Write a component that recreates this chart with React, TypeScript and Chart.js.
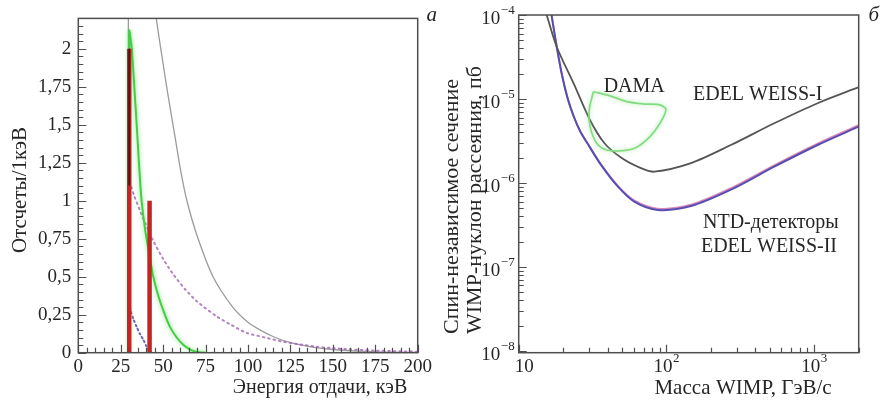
import React, { useEffect, useRef } from 'react';
import { Chart, registerables } from 'chart.js';

Chart.register(...registerables);

const SERIF = '"Liberation Serif", "Times New Roman", Times, serif';
const INK = '#262626';
const FRAME = '#4e4e4e';

// ---------- panel a: recoil-energy spectra ----------
const ENERGY_TICKS = [0, 25, 50, 75, 100, 125, 150, 175, 200];
const COUNT_TICKS = [0, 0.25, 0.5, 0.75, 1, 1.25, 1.5, 1.75, 2];

// thin gray curve
const GRAY_E = [30, 30, 38, 42, 46, 50, 52.5, 57, 60.3, 64, 70, 79.4, 91, 100, 107, 115, 125, 137, 150, 165, 180, 200];
const GRAY_C = [0, 4.5, 3.2, 2.66, 2.2, 1.9, 1.72, 1.42, 1.2, 1.0, 0.77, 0.5, 0.3, 0.2, 0.15, 0.105, 0.066, 0.039, 0.021, 0.01, 0.004, 0.0015];

// green curve
const GREEN_E = [30, 30, 31.5, 33, 34.4, 36, 37.3, 39.5, 41.8, 44.2, 47, 51, 54, 58, 62, 66, 70, 75];
const GREEN_C = [0, 2.12, 2.0, 1.75, 1.5, 1.2, 1.0, 0.8, 0.65, 0.5, 0.38, 0.25, 0.17, 0.1, 0.05, 0.02, 0.005, 0];

// purple dotted curve
const PURPLE_E = [30, 30, 33, 38, 44, 50, 56, 63, 70, 81.5, 90, 99, 110, 120, 130, 140, 150, 160, 175, 190, 200];
const PURPLE_C = [0, 1.12, 1.03, 0.89, 0.74, 0.617, 0.515, 0.417, 0.337, 0.239, 0.184, 0.131, 0.1, 0.074, 0.055, 0.04, 0.03, 0.022, 0.014, 0.009, 0.0065];

// blue dotted curve
const BLUE_E = [30, 30, 31, 32.5, 34.4, 36.5, 38.3, 40, 41.5, 43];
const BLUE_C = [0, 0.31, 0.27, 0.22, 0.17, 0.12, 0.085, 0.045, 0.015, 0];

// red event bars
const BAR_E = [30, 42];
const BAR_C = [2.0, 1.0];

// dark overlap on the first bar
const CORE_E = [30, 30];
const CORE_C = [1.1, 2.0];

// ---------- panel б: exclusion limits ----------
const MASS_DECADES = [10, 100, 1000];
const MASS_EXP = ['', '2', '3'];
const SIGMA_DECADES = [1e-8, 1e-7, 1e-6, 1e-5, 1e-4];
const SIGMA_EXP = ['\u22128', '\u22127', '\u22126', '\u22125', '\u22124'];

const EW1_M = [15.47, 18.08, 23.78, 30.36, 37.95, 49.22, 67.2, 82.7, 146.5, 273, 536, 1054, 2000];
const EW1_S = [1e-4, 4.19e-5, 1.47e-5, 5.62e-6, 2.99e-6, 2.01e-6, 1.5e-6, 1.36e-6, 1.72e-6, 2.83e-6, 5.13e-6, 8.9e-6, 1.38e-5];

const EW2_M = [16.67, 18.08, 19.63, 21.39, 23.49, 25.99, 29.9, 36.06, 46.8, 60.5, 87, 146.5, 273, 536, 1054, 2000];
const EW2_S = [1e-4, 4.19e-5, 1.93e-5, 1.03e-5, 6.27e-6, 4.16e-6, 2.76e-6, 1.64e-6, 9.08e-7, 5.99e-7, 4.77e-7, 5.3e-7, 8.3e-7, 1.56e-6, 2.83e-6, 4.68e-6];

const EW2P_M = [16.7, 18.1, 19.63, 21.39, 23.49, 25.99, 29.9, 36.06, 46.8, 60.5, 87, 146.5, 273, 536, 1054, 2000];
const EW2P_S = [1e-4, 4.2e-5, 1.94e-5, 1.04e-5, 6.3e-6, 4.19e-6, 2.79e-6, 1.67e-6, 9.3e-7, 6.2e-7, 4.95e-7, 5.5e-7, 8.65e-7, 1.62e-6, 2.94e-6, 4.87e-6];

const DAMA_M = [32.0, 41.5, 53.8, 71.5, 90.4, 99.2, 90.4, 77.3, 62.8, 51.0, 39.4, 33.7, 30.4, 30.0, 32.0];
const DAMA_S = [1.22e-5, 1.09e-5, 9.3e-6, 8.7e-6, 8.5e-6, 7.5e-6, 5.14e-6, 3.56e-6, 2.66e-6, 2.42e-6, 2.47e-6, 2.97e-6, 4.68e-6, 7.4e-6, 1.22e-5];

// in-plot captions, anchored in data coordinates (mass, cross-section)
const CAPTIONS = [
  { text: 'DAMA', m: 60.5, s: 1.4e-5 },
  { text: 'EDEL WEISS-I', m: 414, s: 1.12e-5 },
  { text: 'NTD-детекторы', m: 509, s: 3.37e-7 },
  { text: 'EDEL WEISS-II', m: 494, s: 1.75e-7 },
];

const pts = (xs: number[], ys: number[]) => xs.map((x, i) => ({ x, y: ys[i] }));

const line = (data: any[], color: string, width: number, extra: any = {}) => ({
  data,
  showLine: true,
  borderColor: color,
  backgroundColor: color,
  borderWidth: width,
  pointRadius: 0,
  pointHoverRadius: 0,
  fill: false,
  tension: 0.25,
  ...extra,
});

// soft halo for selected datasets
const glowPlugin = {
  id: 'glow',
  beforeDatasetDraw(chart: any, args: any) {
    const ds: any = chart.data.datasets[args.index];
    if (ds.glow) {
      chart.ctx.save();
      chart.ctx.shadowColor = ds.glow;
      chart.ctx.shadowBlur = 4;
    }
  },
  afterDatasetDraw(chart: any, args: any) {
    const ds: any = chart.data.datasets[args.index];
    if (ds.glow) chart.ctx.restore();
  },
};

type TickSet = { xMajor: number[]; xMinor: number[]; yMajor: number[]; yMinor: number[] };

// box around the plot area with inward tick marks on the bottom and left
function frameTicks(t: TickSet) {
  return {
    id: 'frameTicks',
    afterDatasetsDraw(chart: any) {
      const { ctx, chartArea: ca } = chart;
      const sx = chart.scales.x;
      const sy = chart.scales.y;
      ctx.save();
      ctx.strokeStyle = FRAME;
      ctx.lineWidth = 1.2;
      ctx.beginPath();
      const xs = (vals: number[], len: number) => {
        for (const v of vals) {
          const p = Math.round(sx.getPixelForValue(v)) + 0.5;
          ctx.moveTo(p, ca.bottom);
          ctx.lineTo(p, ca.bottom - len);
        }
      };
      const ys = (vals: number[], len: number) => {
        for (const v of vals) {
          const p = Math.round(sy.getPixelForValue(v)) + 0.5;
          ctx.moveTo(ca.left, p);
          ctx.lineTo(ca.left + len, p);
        }
      };
      xs(t.xMajor, 8);
      xs(t.xMinor, 5);
      ys(t.yMajor, 8);
      ys(t.yMinor, 5);
      ctx.stroke();
      ctx.lineWidth = 1.5;
      ctx.strokeRect(ca.left, ca.top, ca.right - ca.left, ca.bottom - ca.top);
      ctx.restore();
    },
  };
}

function textPlugin(draw: (chart: any, ctx: CanvasRenderingContext2D) => void) {
  return {
    id: 'texts',
    afterDraw(chart: any) {
      const ctx = chart.ctx;
      ctx.save();
      ctx.fillStyle = INK;
      draw(chart, ctx);
      ctx.restore();
    },
  };
}

function label(
  ctx: CanvasRenderingContext2D,
  text: string,
  x: number,
  y: number,
  size: number,
  rot = 0,
  style = '',
  align: CanvasTextAlign = 'center'
) {
  ctx.save();
  ctx.translate(x, y);
  if (rot) ctx.rotate(rot);
  ctx.font = `${style}${size}px ${SERIF}`;
  ctx.textAlign = align;
  ctx.textBaseline = 'middle';
  ctx.fillText(text, 0, 0);
  ctx.restore();
}

// "10" with a raised exponent
function power(ctx: CanvasRenderingContext2D, exp: string, anchorX: number, midY: number, mode: 'right' | 'center', minLeft = -Infinity) {
  ctx.font = `19px ${SERIF}`;
  const wb = ctx.measureText('10').width;
  ctx.font = `13px ${SERIF}`;
  const ws = exp ? ctx.measureText(exp).width + 0.5 : 0;
  const total = wb + ws;
  let left = mode === 'right' ? anchorX - total : anchorX - total / 2;
  if (left < minLeft) left = minLeft;
  ctx.textAlign = 'left';
  ctx.textBaseline = 'middle';
  ctx.font = `19px ${SERIF}`;
  ctx.fillText('10', left, midY);
  if (exp) {
    ctx.font = `13px ${SERIF}`;
    ctx.fillText(exp, left + wb + 0.5, midY - 8);
  }
}

function spectrumConfig(): any {
  const xMinor: number[] = [];
  for (let v = 5; v < 200; v += 5) if (v % 25 !== 0) xMinor.push(v);
  const yMinor: number[] = [];
  for (let i = 1; i <= 44; i++) if (i % 5 !== 0) yMinor.push(i * 0.05);

  const tickFont = { family: SERIF, size: 19 };
  return {
    type: 'scatter',
    data: {
      datasets: [
        line(pts(CORE_E, CORE_C), 'rgba(55,25,18,0.9)', 2, { tension: 0 }),
        ...BAR_E.map((e, i) =>
          line([{ x: e, y: 0 }, { x: e, y: BAR_C[i] }], 'rgb(196,36,36)', 4.5, { tension: 0, borderCapStyle: 'butt' })
        ),
        line(pts(GREEN_E, GREEN_C), 'rgb(70,205,70)', 2, { glow: 'rgba(90,220,90,0.8)', tension: 0.2 }),
        line(pts(BLUE_E, BLUE_C), 'rgba(80,80,170,0.85)', 2, { borderDash: [1.5, 3], borderCapStyle: 'round' }),
        line(pts(PURPLE_E, PURPLE_C), 'rgba(160,100,180,0.8)', 2, { borderDash: [1.5, 4], borderCapStyle: 'round' }),
        line(pts(GRAY_E, GRAY_C), 'rgba(130,130,130,0.8)', 1.3),
      ],
    },
    options: {
      responsive: false,
      animation: false,
      devicePixelRatio: 1,
      layout: { padding: { left: 0, right: 23.3, top: 16.7, bottom: 0 } },
      plugins: { legend: { display: false }, tooltip: { enabled: false } },
      events: [],
      scales: {
        x: {
          type: 'linear',
          min: 0,
          max: 200,
          afterFit: (s: any) => { s.height = 52.3; },
          afterBuildTicks: (s: any) => { s.ticks = ENERGY_TICKS.map((v) => ({ value: v })); },
          grid: { display: false, drawTicks: false },
          border: { display: false },
          ticks: { font: tickFont, color: INK, padding: 3, maxRotation: 0, autoSkip: false },
        },
        y: {
          type: 'linear',
          min: 0,
          max: 2.2,
          afterFit: (s: any) => { s.width = 78.3; },
          afterBuildTicks: (s: any) => { s.ticks = COUNT_TICKS.map((v) => ({ value: v })); },
          grid: { display: false, drawTicks: false },
          border: { display: false },
          ticks: {
            font: tickFont,
            color: INK,
            padding: 7,
            autoSkip: false,
            callback: (v: any) => String(v).replace('.', ','),
          },
        },
      },
    },
    plugins: [
      glowPlugin,
      frameTicks({ xMajor: ENERGY_TICKS, xMinor, yMajor: COUNT_TICKS, yMinor }),
      textPlugin((chart, ctx) => {
        const ca = chart.chartArea;
        label(ctx, 'Отсчеты/1кэВ', 20, 190, 21, -Math.PI / 2);
        label(ctx, 'Энергия отдачи, кэВ', 320, 388, 20);
        label(ctx, 'a', ca.right + 14, 15, 21, 0, 'italic ');
      }),
    ],
  };
}

function limitConfig(): any {
  const xMinor: number[] = [];
  for (const d of [10, 100, 1000]) for (let m = 2; m <= 9; m++) if (m * d <= 2000) xMinor.push(m * d);
  const yMinor: number[] = [];
  for (const d of [1e-8, 1e-7, 1e-6, 1e-5]) for (let m = 2; m <= 9; m++) yMinor.push(m * d);

  return {
    type: 'scatter',
    data: {
      datasets: [
        line(pts(DAMA_M, DAMA_S), 'rgb(130,220,130)', 1.7, { glow: 'rgba(150,228,150,0.8)', tension: 0.3 }),
        line(pts(EW1_M, EW1_S), 'rgb(85,85,85)', 1.8, { tension: 0.3 }),
        line(pts(EW2_M, EW2_S), 'rgb(88,78,178)', 2, { tension: 0.3 }),
        line(pts(EW2P_M, EW2P_S), 'rgb(214,135,190)', 1.8, { tension: 0.3 }),
      ],
    },
    options: {
      responsive: false,
      animation: false,
      devicePixelRatio: 1,
      layout: { padding: { left: 0, right: 23.3, top: 15, bottom: 0 } },
      plugins: { legend: { display: false }, tooltip: { enabled: false } },
      events: [],
      scales: {
        x: {
          type: 'logarithmic',
          min: 10,
          max: 2000,
          afterFit: (s: any) => { s.height = 52.3; },
          grid: { display: false, drawTicks: false },
          border: { display: false },
          ticks: { display: false },
        },
        y: {
          type: 'logarithmic',
          min: 9.5e-9,
          max: 1e-4,
          afterFit: (s: any) => { s.width = 77.7; },
          grid: { display: false, drawTicks: false },
          border: { display: false },
          ticks: { display: false },
        },
      },
    },
    plugins: [
      glowPlugin,
      frameTicks({ xMajor: MASS_DECADES, xMinor, yMajor: SIGMA_DECADES, yMinor }),
      textPlugin((chart, ctx) => {
        const ca = chart.chartArea;
        const sx = chart.scales.x;
        const sy = chart.scales.y;
        SIGMA_DECADES.forEach((v, i) => {
          const p = sy.getPixelForValue(v);
          power(ctx, SIGMA_EXP[i], ca.left - 4, p + 4, 'right');
        });
        MASS_DECADES.forEach((v, i) => {
          const p = sx.getPixelForValue(v);
          power(ctx, MASS_EXP[i], p, 367, 'center', ca.left - 4);
        });
        for (const c of CAPTIONS) {
          label(ctx, c.text, sx.getPixelForValue(c.m), sy.getPixelForValue(c.s), 20);
        }
        label(ctx, 'Спин-независимое сечение', 11, 334, 22, -Math.PI / 2, '', 'left');
        label(ctx, 'WIMP-нуклон рассеяния, пб', 34, 334, 22, -Math.PI / 2, '', 'left');
        label(ctx, 'Масса WIMP, ГэВ/с', 302, 388, 21);
        label(ctx, 'б', ca.right + 15, 15, 21, 0, 'italic ');
      }),
    ],
  };
}

export default function App() {
  const leftRef = useRef<HTMLCanvasElement>(null);
  const rightRef = useRef<HTMLCanvasElement>(null);

  useEffect(() => {
    const a = new Chart(leftRef.current as HTMLCanvasElement, spectrumConfig());
    const b = new Chart(rightRef.current as HTMLCanvasElement, limitConfig());
    return () => {
      a.destroy();
      b.destroy();
    };
  }, []);

  return (
    <div style={{ position: 'fixed', left: 0, top: 0, width: 882, height: 405, background: '#fff' }}>
      <canvas ref={leftRef} width={441} height={405} style={{ position: 'absolute', left: 0, top: 0, width: 441, height: 405 }} />
      <canvas ref={rightRef} width={441} height={405} style={{ position: 'absolute', left: 441, top: 0, width: 441, height: 405 }} />
    </div>
  );
}
